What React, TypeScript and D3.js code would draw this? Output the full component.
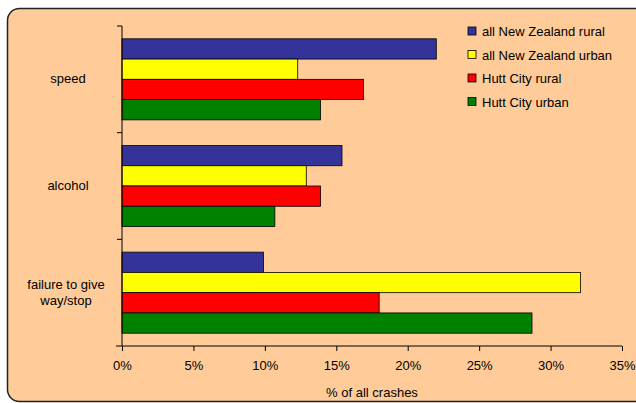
import React, { useEffect, useRef } from 'react';
import * as d3 from 'd3';

const categories = ['speed', 'alcohol', 'failure to give way/stop'];
const seriesNames = ['all New Zealand rural', 'all New Zealand urban', 'Hutt City rural', 'Hutt City urban'];
const seriesColors = ['#333399', '#FFFF00', '#FF0000', '#008000'];
const nzRural = [22.0, 15.4, 9.9];
const nzUrban = [12.3, 12.9, 32.1];
const huttRural = [16.9, 13.9, 18.0];
const huttUrban = [13.9, 10.7, 28.7];
const xTicks = [0, 5, 10, 15, 20, 25, 30, 35];

const App: React.FC = () => {
  const ref = useRef<SVGSVGElement | null>(null);

  useEffect(() => {
    if (!ref.current) return;
    const svg = d3.select(ref.current);
    svg.selectAll('*').remove();
    const font = 'Arial, "Liberation Sans", sans-serif';
    const values = [nzRural, nzUrban, huttRural, huttUrban];

    svg.append('rect').attr('x', 7.5).attr('y', 8.5).attr('width', 640).attr('height', 393)
      .attr('rx', 12).attr('fill', '#FFCC99').attr('stroke', '#222').attr('stroke-width', 1.5);

    const left = 122, right = 622, top = 26, bottom = 346;
    const x = d3.scaleLinear().domain([0, 35]).range([left, right]);
    const y = d3.scaleBand().domain(categories).range([top, bottom]).paddingInner(0.24).paddingOuter(0.12);
    const inner = d3.scaleBand().domain(seriesNames).range([0, y.bandwidth()]);

    const g = svg.append('g');
    categories.forEach((c, ci) => {
      seriesNames.forEach((s, si) => {
        g.append('rect')
          .attr('x', x(0))
          .attr('y', (y(c) || 0) + (inner(s) || 0))
          .attr('width', x(values[si][ci]) - x(0))
          .attr('height', inner.bandwidth())
          .attr('fill', seriesColors[si])
          .attr('stroke', '#000').attr('stroke-width', 0.8);
      });
    });

    const xAxis = svg.append('g').attr('transform', `translate(0,${bottom})`)
      .call(d3.axisBottom(x).tickValues(xTicks).tickFormat(d => `${d}%`).tickSize(5).tickSizeOuter(0));
    xAxis.select('.domain').attr('d', `M${left - 6},0H${right}`);
    xAxis.selectAll('text').attr('font-family', font).attr('font-size', 13).attr('fill', '#000').attr('dy', '1.25em');
    xAxis.selectAll('path,line').attr('stroke', '#000');

    const yAxis = svg.append('g').attr('transform', `translate(${left},0)`);
    yAxis.append('line').attr('x1', 0).attr('x2', 0).attr('y1', top).attr('y2', bottom).attr('stroke', '#000');
    const bounds = [top, ...categories.map(c => (y(c) || 0) + y.bandwidth() + y.step() * y.paddingInner() / 2)];
    bounds.slice(0, 3).forEach(b => yAxis.append('line').attr('x1', -5).attr('x2', 0).attr('y1', b).attr('y2', b).attr('stroke', '#000'));

    categories.forEach(c => {
      const cy = (y(c) || 0) + y.bandwidth() / 2;
      const t = svg.append('text').attr('x', 68).attr('text-anchor', 'middle')
        .attr('font-family', font).attr('font-size', 13).attr('fill', '#000');
      if (c === 'failure to give way/stop') {
        t.append('tspan').attr('x', 66).attr('y', cy - 4).text('failure to give');
        t.append('tspan').attr('x', 66).attr('y', cy + 12).text('way/stop');
      } else {
        t.attr('y', cy + 4).text(c);
      }
    });

    svg.append('text').attr('x', 372).attr('y', 397).attr('text-anchor', 'middle')
      .attr('font-family', font).attr('font-size', 13).text('% of all crashes');

    const legend = svg.append('g').attr('transform', 'translate(468,27)');
    seriesNames.forEach((s, i) => {
      const row = legend.append('g').attr('transform', `translate(0,${i * 23.5})`);
      row.append('rect').attr('x', 0).attr('y', 0).attr('width', 8).attr('height', 8)
        .attr('fill', seriesColors[i]).attr('stroke', '#000').attr('stroke-width', 0.8);
      row.append('text').attr('x', 14).attr('y', 9).attr('font-family', font).attr('font-size', 13).text(s);
    });
  }, []);

  return <svg ref={ref} width={636} height={403} style={{ position: 'absolute', left: 0, top: 0 }}></svg>;
};

export default App;
